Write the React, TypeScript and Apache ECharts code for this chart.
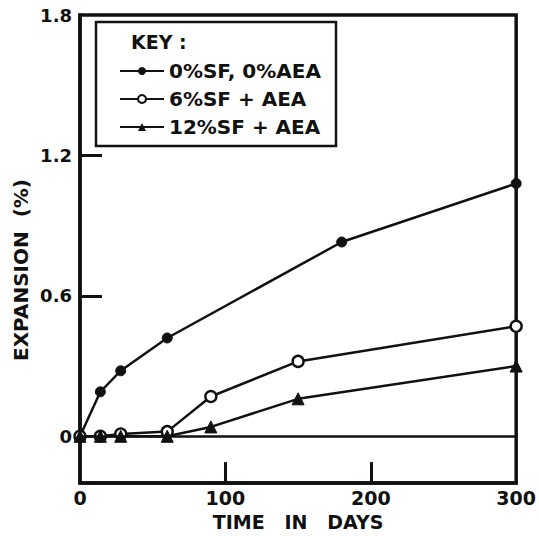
import React, { useEffect, useRef } from "react";
import * as echarts from "echarts";

// Expansion (%) measured against age (days) for each mix
const plainMix: [number, number][] = [
  [0, 0],
  [14, 0.19],
  [28, 0.28],
  [60, 0.42],
  [180, 0.83],
  [300, 1.08],
];
const sf6Mix: [number, number][] = [
  [0, 0],
  [14, 0],
  [28, 0.01],
  [60, 0.02],
  [90, 0.17],
  [150, 0.32],
  [300, 0.47],
];
const sf12Mix: [number, number][] = [
  [0, 0],
  [14, 0],
  [28, 0],
  [60, 0],
  [90, 0.04],
  [150, 0.16],
  [300, 0.3],
];

const seriesNames = ["0%SF, 0%AEA", "6%SF + AEA", "12%SF + AEA"];
const yTickLabels = [0, 0.6, 1.2, 1.8];
const xTickLabels = [0, 100, 200, 300];

const INK = "#111";
const FONT = "DejaVu Sans";

export default function App() {
  const ref = useRef<HTMLDivElement>(null);

  useEffect(() => {
    if (!ref.current) return;
    const chart = echarts.init(ref.current, undefined, { renderer: "svg" });

    const lineBase = {
      type: "line" as const,
      lineStyle: { color: INK, width: 2.5 },
      itemStyle: { color: INK, borderColor: INK },
      z: 3,
    };

    chart.setOption({
      animation: false,
      backgroundColor: "#fff",
      grid: {
        left: 80,
        right: 19,
        top: 15,
        bottom: 51,
        show: true,
        borderColor: INK,
        borderWidth: 3.5,
      },
      xAxis: {
        type: "value",
        min: 0,
        max: 300,
        interval: 100,
        name: "TIME   IN   DAYS",
        nameLocation: "middle",
        nameGap: 27,
        nameTextStyle: { color: INK, fontFamily: FONT, fontWeight: "bold", fontSize: 19 },
        axisLine: { show: true, onZero: false, lineStyle: { color: INK, width: 3.5 } },
        axisTick: { show: true, inside: true, length: 21, customValues: [100, 200], lineStyle: { color: INK, width: 3 } },
        axisLabel: {
          customValues: xTickLabels,
          color: INK,
          fontFamily: FONT,
          fontWeight: "bold",
          fontSize: 19,
          margin: 5,
        },
        splitLine: { show: false },
      },
      yAxis: {
        type: "value",
        min: -0.2,
        max: 1.8,
        axisLine: { show: true, onZero: false, lineStyle: { color: INK, width: 3.5 } },
        axisTick: { show: true, inside: true, length: 22, customValues: [0.6, 1.2], lineStyle: { color: INK, width: 3 } },
        axisLabel: {
          customValues: yTickLabels,
          formatter: (v: number) => (v === 0 ? "0" : v.toFixed(1)),
          color: INK,
          fontFamily: FONT,
          fontWeight: "bold",
          fontSize: 18,
          margin: 8,
        },
        splitLine: { show: false },
      },
      legend: {
        orient: "vertical",
        left: 114,
        top: 56,
        itemWidth: 44,
        itemHeight: 10,
        itemGap: 8,
        data: seriesNames,
        textStyle: { color: INK, fontFamily: FONT, fontWeight: "bold", fontSize: 20 },
      },
      graphic: [
        {
          type: "rect",
          shape: { x: 96, y: 22, width: 240, height: 124 },
          style: { fill: "none", stroke: INK, lineWidth: 2.5 },
          z: 10,
        },
        {
          type: "text",
          x: 131,
          y: 42,
          style: {
            text: "KEY :",
            fill: INK,
            font: `bold 19px "${FONT}"`,
            textVerticalAlign: "middle",
          },
          z: 10,
        },
        {
          type: "text",
          x: 21,
          y: 270,
          rotation: Math.PI / 2,
          style: {
            text: "EXPANSION  (%)",
            fill: INK,
            font: `bold 20px "${FONT}"`,
            textAlign: "center",
            textVerticalAlign: "middle",
          },
        },
      ],
      series: [
        {
          ...lineBase,
          name: seriesNames[0],
          data: plainMix,
          symbol: "circle",
          symbolSize: 10,
          markLine: {
            silent: true,
            symbol: "none",
            label: { show: false },
            lineStyle: { color: INK, width: 2.5, type: "solid" },
            data: [{ yAxis: 0 }],
          },
        },
        {
          ...lineBase,
          name: seriesNames[1],
          data: sf6Mix,
          symbol: "circle",
          symbolSize: 11,
          itemStyle: { color: "#fff", borderColor: INK, borderWidth: 2.4 },
        },
        {
          ...lineBase,
          name: seriesNames[2],
          data: sf12Mix,
          symbol: "triangle",
          symbolSize: 12,
        },
      ],
    });

    return () => chart.dispose();
  }, []);

  return <div ref={ref} style={{ width: 539, height: 536, position: "absolute", left: 0, top: 0 }} />;
}
